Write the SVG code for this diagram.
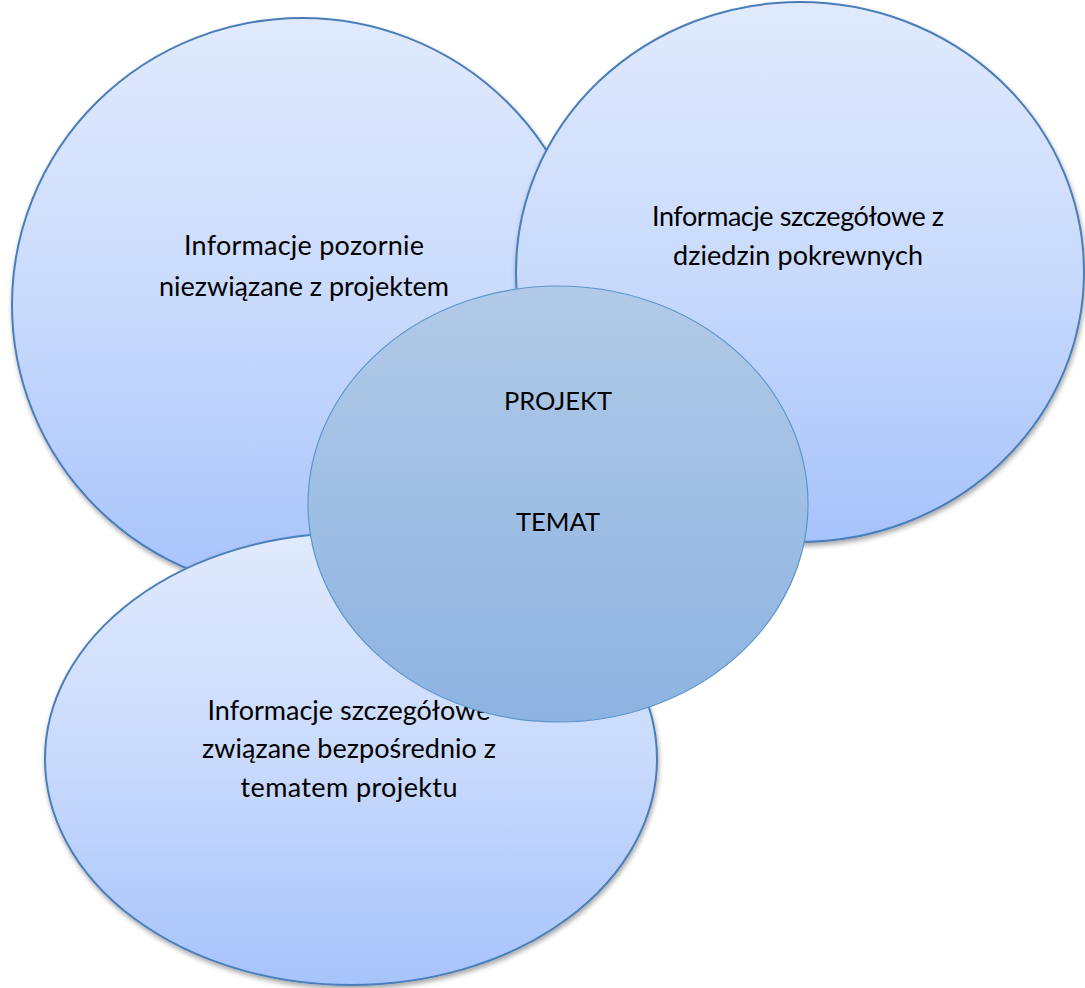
<svg xmlns="http://www.w3.org/2000/svg" width="1085" height="988" viewBox="0 0 1085 988">
<defs>
<linearGradient id="gOuter" x1="0" y1="0" x2="0" y2="1">
<stop offset="0" stop-color="#e1eafd"/>
<stop offset="0.5" stop-color="#c9dafc"/>
<stop offset="1" stop-color="#a6c3fb"/>
</linearGradient>
<linearGradient id="gCenter" x1="0" y1="0" x2="0" y2="1">
<stop offset="0" stop-color="#b1cae7"/>
<stop offset="1" stop-color="#8db3e1"/>
</linearGradient>
<filter id="shadow" x="-10%" y="-10%" width="120%" height="120%">
<feGaussianBlur in="SourceAlpha" stdDeviation="2.5"/>
<feOffset dx="1" dy="3" result="b"/>
<feComponentTransfer><feFuncA type="linear" slope="0.35"/></feComponentTransfer>
<feMerge><feMergeNode/><feMergeNode in="SourceGraphic"/></feMerge>
</filter>
</defs>
<style>
.outer{fill:url(#gOuter);stroke:#4a7ebb;stroke-width:2;filter:url(#shadow)}
.center{fill:url(#gCenter);stroke:#5b95d0;stroke-width:1.2}
.lbl{font-family:Lato,"Open Sans","Liberation Sans",sans-serif;font-size:27px;fill:#000;text-anchor:middle}
.cap{font-size:25.5px}
</style>
<rect width="1085" height="988" fill="#ffffff"/>
<g id="connectors"></g>
<g id="node-left">
<ellipse class="outer" cx="302" cy="305" rx="290" ry="287"/>
<text class="lbl" x="304" y="255" textLength="240">Informacje pozornie</text>
<text class="lbl" x="304" y="296" textLength="290">niezwiązane z projektem</text>
</g>
<g id="node-right">
<ellipse class="outer" cx="800" cy="272" rx="284" ry="270"/>
<text class="lbl" x="798" y="226" textLength="292">Informacje szczegółowe z</text>
<text class="lbl" x="798" y="265" textLength="250">dziedzin pokrewnych</text>
</g>
<g id="node-bottom">
<ellipse class="outer" cx="351" cy="759" rx="306" ry="226"/>
<text class="lbl" x="349" y="720" textLength="283">Informacje szczegółowe</text>
<text class="lbl" x="349" y="758" textLength="294">związane bezpośrednio z</text>
<text class="lbl" x="349" y="797" textLength="217">tematem projektu</text>
</g>
<g id="node-center">
<ellipse class="center" cx="558" cy="504" rx="250" ry="218"/>
<text class="lbl cap" x="558" y="410">PROJEKT</text>
<text class="lbl cap" x="558" y="531">TEMAT</text>
</g>
</svg>
